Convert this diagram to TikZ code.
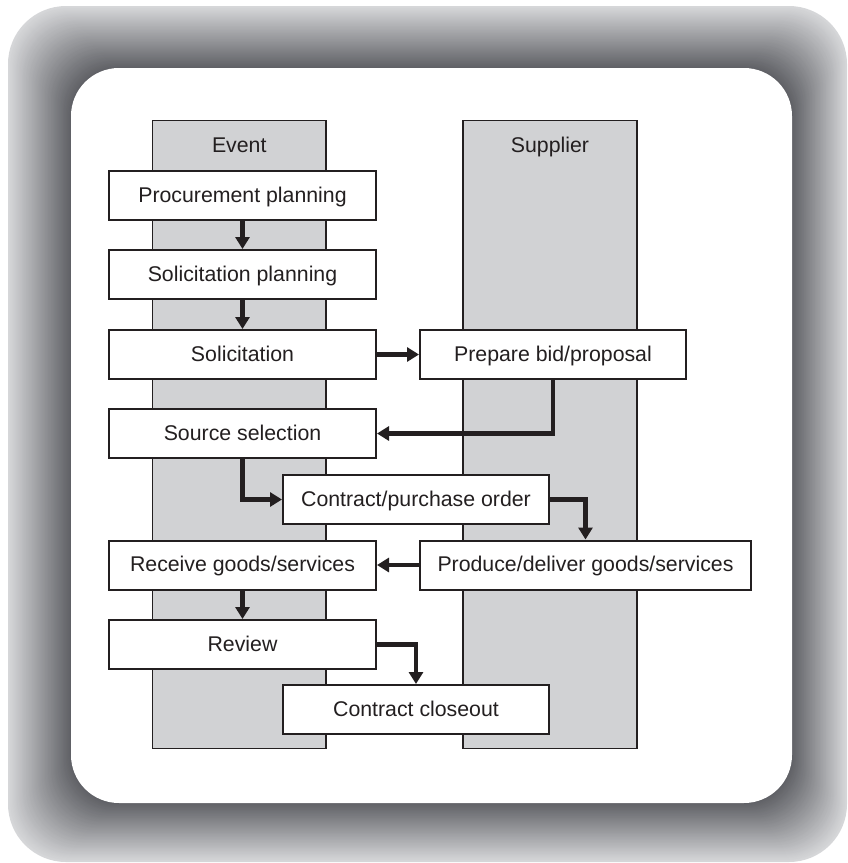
\documentclass[tikz,border=0pt]{standalone}
\usepackage{fontspec}
\setmainfont{Liberation Sans}
\usetikzlibrary{arrows.meta}
\definecolor{ink}{HTML}{231F20}
\definecolor{lanefill}{HTML}{D1D2D4}
\definecolor{framelight}{HTML}{D6D7D9}
\definecolor{framedark}{HTML}{5E5F64}
\tikzset{
  lane/.style={draw=ink, fill=lanefill, line width=1.3pt},
  lanelabel/.style={text=ink, font=\fontsize{21.3}{25}\selectfont,
    inner sep=0pt, anchor=base},
  stepbox/.style={draw=ink, fill=white, line width=2pt, text=ink,
    minimum height=49pt, inner sep=0pt,
    text height=15.5pt, text depth=2.5pt,
    font=\fontsize{21.3}{25}\selectfont},
  flow/.style={draw=ink, line width=4.5pt,
    -{Triangle[width=14pt,length=12pt]}},
}
\begin{document}
\begin{tikzpicture}[x=1pt, y=-1pt]
\useasboundingbox (0,0) rectangle (847,863);
% shaded frame: nested rounded rectangles, light outside to dark inside
\foreach \i in {0,...,60}{
  \pgfmathsetmacro\t{\i/60}
  \pgfmathtruncatemacro\p{100*\t}
  \pgfmathsetmacro\r{58-10*\t}
  \fill[framedark!\p!framelight, rounded corners=\r pt]
    (8+63*\t, 6+62*\t) rectangle (847-55*\t, 862-59*\t);
}
\fill[white, rounded corners=48pt] (71,68) rectangle (792,803);

% swimlanes
\draw[lane] (152.5,120.5) rectangle (326,748.5);
\draw[lane] (463,120.5) rectangle (637,748.5);
\node[lanelabel] (eventlbl) at (239.25,152.5) {Event};
\node[lanelabel] (supplierlbl) at (550,152.5) {Supplier};

% process steps
\node[stepbox, minimum width=267pt] (pp)   at (242.5,195.5) {Procurement planning};
\node[stepbox, minimum width=267pt] (sp)   at (242.5,274.5) {Solicitation planning};
\node[stepbox, minimum width=267pt] (sol)  at (242.5,354.5) {Solicitation};
\node[stepbox, minimum width=266pt] (prep) at (553,354.5)   {Prepare bid/proposal};
\node[stepbox, minimum width=267pt] (src)  at (242.5,433.5) {Source selection};
\node[stepbox, minimum width=266pt] (cpo)  at (416,499.5)   {Contract/purchase order};
\node[stepbox, minimum width=267pt] (rcv)  at (242.5,565)   {Receive goods/services};
\node[stepbox, minimum width=331pt] (pd)   at (585.5,565)   {Produce/deliver goods/services};
\node[stepbox, minimum width=267pt] (rev)  at (242.5,644.5) {Review};
\node[stepbox, minimum width=266pt] (co)   at (416,709.5)   {Contract closeout};

% connectors
\draw[flow] (pp.south) -- (sp.north);
\draw[flow] (sp.south) -- (sol.north);
\draw[flow] (sol.east) -- (prep.west);
\draw[flow] (prep.south) |- (src.east);
\draw[flow] (src.south) |- (cpo.west);
\draw[flow] (cpo.east) -| (pd.north);
\draw[flow] (pd.west) -- (rcv.east);
\draw[flow] (rcv.south) -- (rev.north);
\draw[flow] (rev.east) -| (co.north);
\end{tikzpicture}
\end{document}
